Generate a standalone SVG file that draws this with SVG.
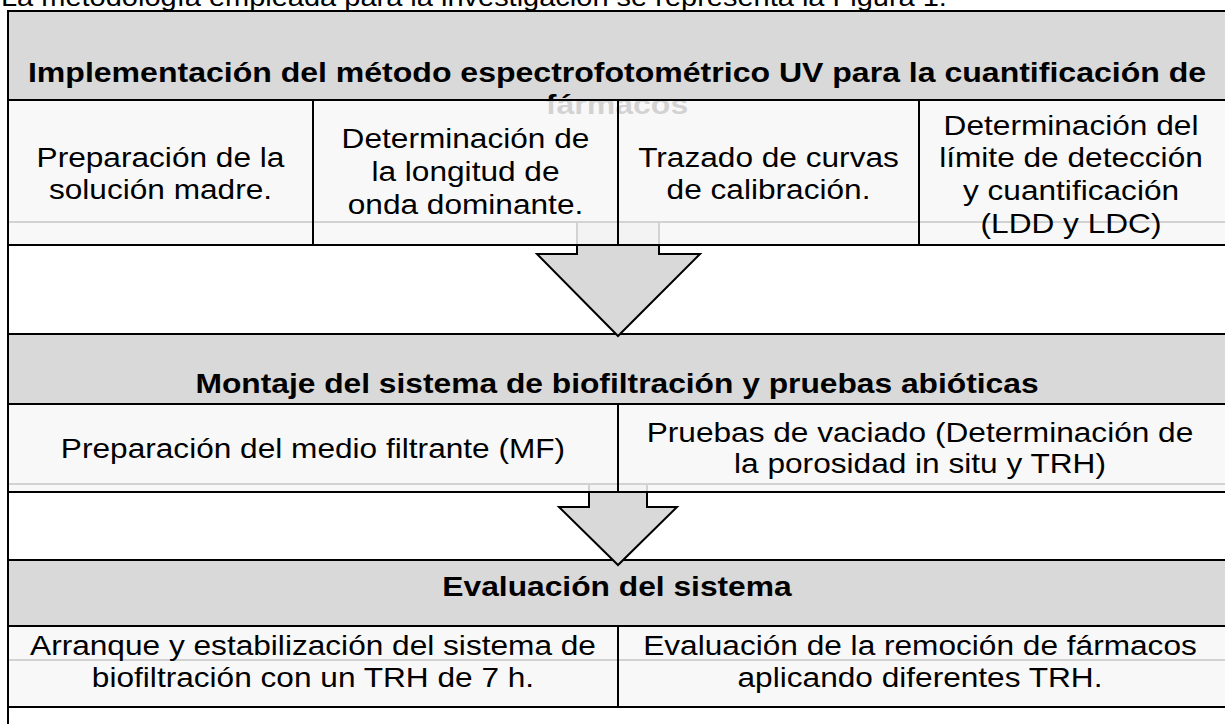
<svg xmlns="http://www.w3.org/2000/svg" width="1225" height="724" viewBox="0 0 1225 724">
<style>
  text { font-family: "Liberation Sans", Arial, sans-serif; fill: #000; }
  .body { font-size: 27.5px; text-anchor: middle; }
  .title { font-size: 27.5px; font-weight: bold; text-anchor: middle; }
  .cap { font-size: 25px; }
  .hdr { fill: #d9d9d9; stroke: #000; stroke-width: 2; }
  .row { fill: #f7f7f7; fill-opacity: 0.85; stroke: #000; stroke-width: 2; }
  .div { stroke: #000; stroke-width: 2; }
  .arrow { fill: #d9d9d9; stroke: #000; stroke-width: 2; stroke-linejoin: miter; }
  .ln { fill: none; stroke: #000; stroke-width: 2; }
</style>
<rect x="0" y="0" width="1225" height="724" fill="#ffffff"/>
<g id="caption">
  <text class="cap" transform="translate(1 6) scale(1.16 1)" x="0" y="0">La metodología empleada para la investigación se representa la Figura 1.</text>
</g>
<line class="ln" x1="8" y1="11" x2="8" y2="724"/>
<g id="header1">
  <rect class="hdr" x="8" y="11" width="1240" height="89"/>
  <g transform="translate(617 0) scale(1.165 1)">
    <text class="title" x="0" y="82">Implementación del método espectrofotométrico UV para la cuantificación de</text>
    <text class="title" x="0" y="114">fármacos</text>
  </g>
</g>
<g id="header2">
  <rect class="hdr" x="8" y="334" width="1240" height="70"/>
  <g transform="translate(617 0) scale(1.155 1)">
    <text class="title" x="0" y="393">Montaje del sistema de biofiltración y pruebas abióticas</text>
  </g>
</g>
<g id="header3">
  <rect class="hdr" x="8" y="560" width="1240" height="66"/>
  <g transform="translate(617 0) scale(1.155 1)">
    <text class="title" x="0" y="596">Evaluación del sistema</text>
  </g>
</g>
<g id="connectors">
  <line class="ln" x1="8" y1="222" x2="577" y2="222"/>
  <line class="ln" x1="659" y1="222" x2="1240" y2="222"/>
  <polygon class="arrow" points="577,222 577,254 537,254 618,336 700,254 659,254 659,222"/>
  <line class="ln" x1="8" y1="484" x2="589" y2="484"/>
  <line class="ln" x1="647" y1="484" x2="1240" y2="484"/>
  <polygon class="arrow" points="589,484 589,507 559,507 618,565 677,507 647,507 647,484"/>
  <line class="ln" x1="8" y1="660" x2="1240" y2="660"/>
</g>
<g id="row1">
  <rect class="row" x="8" y="100" width="1240" height="145"/>
  <line class="div" x1="313" y1="100" x2="313" y2="245"/>
  <line class="div" x1="618" y1="100" x2="618" y2="245"/>
  <line class="div" x1="919" y1="100" x2="919" y2="245"/>
</g>
<g id="step-solucion-madre" transform="translate(160.5 0) scale(1.15 1)">
  <text class="body" x="0" y="167">Preparación de la</text>
  <text class="body" x="0" y="199">solución madre.</text>
</g>
<g id="step-longitud-onda" transform="translate(465.5 0) scale(1.15 1)">
  <text class="body" x="0" y="148">Determinación de</text>
  <text class="body" x="0" y="181">la longitud de</text>
  <text class="body" x="0" y="214">onda dominante.</text>
</g>
<g id="step-curvas" transform="translate(768.5 0) scale(1.15 1)">
  <text class="body" x="0" y="167">Trazado de curvas</text>
  <text class="body" x="0" y="199">de calibración.</text>
</g>
<g id="step-limites" transform="translate(1071 0) scale(1.15 1)">
  <text class="body" x="0" y="135">Determinación del</text>
  <text class="body" x="0" y="167">límite de detección</text>
  <text class="body" x="0" y="200">y cuantificación</text>
  <text class="body" x="0" y="233">(LDD y LDC)</text>
</g>
<g id="row2">
  <rect class="row" x="8" y="404" width="1240" height="88"/>
  <line class="div" x1="618" y1="404" x2="618" y2="492"/>
</g>
<g id="step-medio-filtrante" transform="translate(313 0) scale(1.15 1)">
  <text class="body" x="0" y="458">Preparación del medio filtrante (MF)</text>
</g>
<g id="step-vaciado" transform="translate(920 0) scale(1.15 1)">
  <text class="body" x="0" y="442">Pruebas de vaciado (Determinación de</text>
  <text class="body" x="0" y="473">la porosidad in situ y TRH)</text>
</g>
<g id="row3">
  <rect class="row" x="8" y="626" width="1240" height="81"/>
  <line class="div" x1="618" y1="626" x2="618" y2="707"/>
</g>
<g id="step-arranque" transform="translate(313 0) scale(1.15 1)">
  <text class="body" x="0" y="655">Arranque y estabilización del sistema de</text>
  <text class="body" x="0" y="687">biofiltración con un TRH de 7 h.</text>
</g>
<g id="step-remocion" transform="translate(920 0) scale(1.15 1)">
  <text class="body" x="0" y="655">Evaluación de la remoción de fármacos</text>
  <text class="body" x="0" y="687">aplicando diferentes TRH.</text>
</g>
</svg>
